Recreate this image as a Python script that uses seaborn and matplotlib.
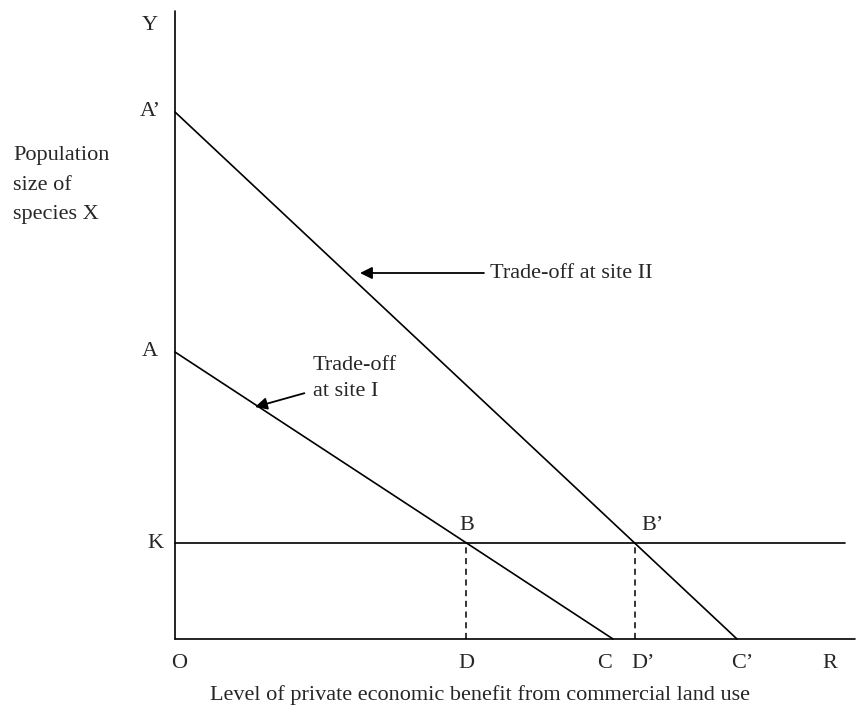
import pandas as pd
import matplotlib.pyplot as plt
import seaborn as sns

sns.set_style('white')
plt.rcParams['font.family'] = ['Liberation Serif', 'DejaVu Serif']

# diagram points (origin O at 0,0)
y_top = 6.28
x_end = 6.80
k_end = 6.70
y_A = 2.87
y_A2 = 5.27
y_K = 0.96
x_C = 4.38
x_C2 = 5.62

# B and B' sit where the trade-off lines cross the K line
x_B = x_C * (1 - y_K / y_A)
x_B2 = x_C2 * (1 - y_K / y_A2)

site1 = pd.DataFrame({'x': [0, x_C], 'y': [y_A, 0]})
site2 = pd.DataFrame({'x': [0, x_C2], 'y': [y_A2, 0]})
k_line = pd.DataFrame({'x': [0, k_end], 'y': [y_K, y_K]})
x_axis = pd.DataFrame({'x': [0, x_end], 'y': [0, 0]})
y_axis = pd.DataFrame({'x': [0, 0], 'y': [0, y_top]})

fig = plt.figure(figsize=(8.66, 7.12), dpi=100)
ax = fig.add_axes([0, 0, 1, 1])

for df in [x_axis, y_axis, k_line, site1, site2]:
    sns.lineplot(data=df, x='x', y='y', ax=ax, color='black', lw=1.2,
                 sort=False, estimator=None)

# dashed drops from B and B'
for xb in [x_B, x_B2]:
    ax.plot([xb, xb], [0, y_K], color='black', lw=1.1, ls=(0, (4, 3)))

ax.set_xlim(-1.75, 6.91)
ax.set_ylim(-0.73, 6.39)
ax.axis('off')

fs = 16
# axis point labels
ax.text(-0.25, y_top - 0.15, 'Y', fontsize=fs, ha='center', va='center')
ax.text(-0.25, y_A2, 'A\u2019', fontsize=fs, ha='center', va='center')
ax.text(-0.25, y_A, 'A', fontsize=fs, ha='center', va='center')
ax.text(-0.2, y_K, 'K', fontsize=fs, ha='center', va='center')
ax.text(x_B, y_K + 0.17, 'B', fontsize=fs, ha='center', va='center')
ax.text(x_B2 + 0.18, y_K + 0.17, 'B\u2019', fontsize=fs, ha='center', va='center')

row = -0.25
ax.text(0.04, row, 'O', fontsize=fs, ha='center', va='center')
ax.text(x_B, row, 'D', fontsize=fs, ha='center', va='center')
ax.text(x_C - 0.08, row, 'C', fontsize=fs, ha='center', va='center')
ax.text(x_B2 + 0.08, row, 'D\u2019', fontsize=fs, ha='center', va='center')
ax.text(x_C2 + 0.05, row, 'C\u2019', fontsize=fs, ha='center', va='center')
ax.text(x_end - 0.25, row, 'R', fontsize=fs, ha='center', va='center')

ax.text(3.05, -0.56, 'Level of private economic benefit from commercial land use',
        fontsize=fs, ha='center', va='center')
ax.text(-1.62, 4.54, 'Population\nsize of\nspecies X', fontsize=fs, ha='left',
        va='center', linespacing=1.75)

# trade-off callouts
ax.annotate('Trade-off at site II', xy=(1.85, 3.66), xytext=(3.15, 3.66),
            fontsize=fs, ha='left', va='center',
            arrowprops=dict(arrowstyle='-|>', color='black', lw=1.3,
                            mutation_scale=18, shrinkA=2, shrinkB=0))
ax.annotate('Trade-off\nat site I', xy=(0.8, 2.32), xytext=(1.38, 2.6),
            fontsize=fs, ha='left', va='center', linespacing=1.5,
            arrowprops=dict(arrowstyle='-|>', color='black', lw=1.3,
                            mutation_scale=18, shrinkA=4, shrinkB=0))

fig.savefig('out.png', dpi=100)
